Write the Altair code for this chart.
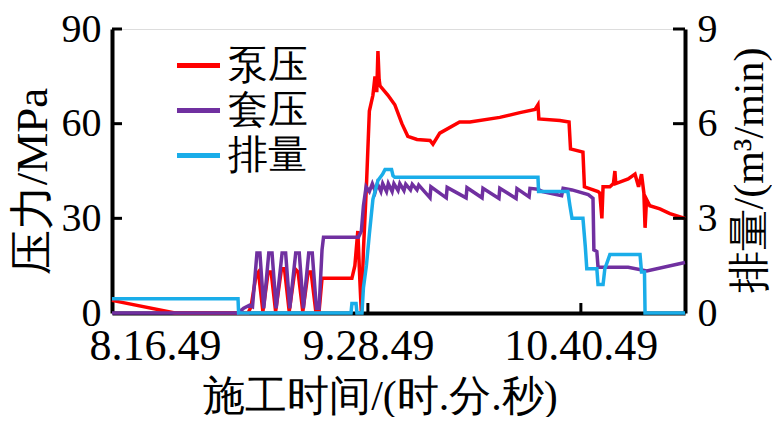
import altair as alt
import pandas as pd

series_names = ["泵压", "套压", "排量"]
series_colors = ["#FF0000", "#7030A0", "#1AADE9"]

# time in minutes relative to 8:16:49
pump_t = [-14.5, 6.8, 31.5, 32.5, 34.2, 35.0, 36.5, 38.3, 39.3, 40.8, 42.8, 43.8, 45.4, 47.4, 48.4, 50.0,
          51.8, 52.8, 54.4, 55.5, 56.5, 66.6, 67.6, 68.6, 69.3, 69.8, 70.5, 71.5, 72.5, 73.7, 74.4, 75.0,
          75.4, 75.8, 76.1, 78.8, 81.1, 83.5, 85.5, 88.6, 93.0, 94.0, 96.3, 103.0, 106.5, 116.6, 123.4,
          128.5, 129.5, 129.8, 136.9, 140.0, 140.5, 144.7, 145.2, 149.8, 150.4, 151.1, 151.5, 153.8,
          155.0, 155.5, 155.8, 160.0, 162.3, 163.5, 164.5, 165.3, 165.7, 166.2, 167.3, 170.7, 174.1, 179.2]
pump_v = [4, 0, 0, 2, 12, 13, 0.5, 13, 13, 0.5, 14, 14, 0.5, 14, 13, 0.5,
          13, 13, 0.5, 0.5, 11, 11, 15, 26, 10, 0, 20, 40, 64, 69, 75, 70,
          83, 74, 72, 69, 66, 60, 56, 55, 54.7, 53.5, 57, 60.5, 60.5, 62, 63.5,
          64.5, 66, 61.5, 61, 60.5, 52, 51, 40, 38.5, 38, 30, 40, 40,
          41, 45, 41, 42.5, 44, 40, 44, 38, 27, 36, 34, 33, 31.5, 30]

casing_t = [-14.5, 28.0, 30.0, 32.0, 33.0, 34.5, 35.5, 36.8, 38.5, 39.6, 41.0, 43.0, 44.2, 45.6, 47.6, 48.8,
            50.2, 52.0, 53.2, 54.6, 55.5, 56.5, 57.0, 68.8, 69.8, 70.5, 71.4, 72.5, 73.5, 74.5, 75.2, 76.4,
            77.0, 78.3, 78.9, 80.2, 80.8, 82.2, 82.8, 84.2, 84.8, 86.4, 87.0, 88.6, 89.2, 93.0, 93.3, 98.5,
            98.8, 105.2, 105.5, 110.6, 110.9, 116.3, 116.6, 122.1, 122.4, 126.5, 126.8, 129.5, 131.0, 137.5,
            138.0, 141.0, 146.5, 148.1, 148.4, 149.4, 149.8, 160.0, 166.3, 179.2]
casing_v = [0, 0, 1.5, 2.5, 2.0, 19, 19, 1.5, 19, 19, 1.5, 19, 19, 1.5, 19, 19,
            1.5, 19, 19, 1.5, 1.5, 20, 24, 24, 26, 34, 40, 38.5, 41, 38.5, 41, 38.5,
            41, 38.5, 41, 38.5, 41, 38.8, 41, 38.8, 40.8, 39, 40.8, 39, 40.5, 36.5, 40, 36.5,
            39.8, 36.5, 39.7, 36.5, 39.5, 36.3, 39.5, 36.3, 39.4, 36.8, 39.5, 39.2, 38.5, 37.2,
            39.5, 39, 37.5, 36.3, 20, 19.5, 14.5, 14.5, 13.3, 16]

rate_t = [-14.5, 28.1, 28.3, 66.3, 66.6, 68.0, 68.3, 70.0, 70.5, 71.5, 72.5, 73.7, 75.4, 77.0, 77.8, 80.0,
          80.5, 81.1, 129.5, 129.7, 139.6, 140.3, 141.0, 144.7, 145.5, 146.0, 149.4, 149.8, 151.5, 152.1,
          153.8, 164.0, 164.5, 165.5, 165.7, 179.2]
rate_v = [0.45, 0.45, 0, 0, 0.3, 0.3, 0, 0, 0.8, 1.5, 2.5, 3.6, 4.2, 4.4, 4.55, 4.55,
          4.35, 4.3, 4.3, 3.85, 3.85, 3.4, 3.0, 3.0, 2.1, 1.4, 1.4, 0.9, 0.9, 1.4,
          1.85, 1.85, 1.3, 1.3, 0, 0]

x_tick_values = [0, 72, 144]
x_tick_labels = ["8.16.49", "9.28.49", "10.40.49"]
x_tick_marks = [72, 144]
x_domain = [-14.5, 179.2]
left_ticks = [0, 30, 60, 90]
left_tick_marks = [30, 60, 90]
right_ticks = [0, 3, 6, 9]
right_tick_marks = [3, 6, 9]

SERIF = "Times New Roman, Liberation Serif, DejaVu Serif, serif"
W, H = 573, 284

df_pump = pd.DataFrame({"t": pump_t, "v": pump_v, "s": series_names[0]})
df_casing = pd.DataFrame({"t": casing_t, "v": casing_v, "s": series_names[1]})
df_rate = pd.DataFrame({"t": rate_t, "v": rate_v, "s": series_names[2]})

label_expr = "'" + x_tick_labels[-1] + "'"
for val, lab in reversed(list(zip(x_tick_values[:-1], x_tick_labels[:-1]))):
    label_expr = f"datum.value == {val} ? '{lab}' : " + label_expr

x_scale = alt.Scale(domain=x_domain, nice=False, zero=False)
x_axis = alt.Axis(values=x_tick_values, labelExpr=label_expr, title="施工时间/(时.分.秒)",
                  ticks=False, grid=False, domainWidth=4, domainColor="black",
                  labelFont=SERIF, labelFontSize=44, labelColor="black", labelPadding=11,
                  labelFlush=False, labelOverlap=False,
                  titleFont=SERIF, titleFontSize=42, titleFontWeight="normal", titleColor="black",
                  titleX=268, titleY=83, titleBaseline="middle", titleAlign="center")


def xenc(field):
    return alt.X(field, type="quantitative", scale=x_scale, axis=x_axis)


left_scale = alt.Scale(domain=[0, 90], nice=False, zero=True)
right_scale = alt.Scale(domain=[0, 9], nice=False, zero=True)

left_axis = alt.Axis(values=left_ticks, title="压力/MPa", orient="left", ticks=False, grid=False,
                     domainWidth=4, domainColor="black",
                     labelFont=SERIF, labelFontSize=40, labelColor="black", labelPadding=11,
                     labelFlush=False, labelOverlap=False,
                     titleFont=SERIF, titleFontSize=45, titleFontWeight="normal", titleColor="black",
                     titleAngle=270, titleX=-80, titleY=152, titleBaseline="middle", titleAlign="center")
right_axis = alt.Axis(values=right_ticks, title="排量/(m³/min)", orient="right", ticks=False, grid=False,
                      domainWidth=4, domainColor="black",
                      labelFont=SERIF, labelFontSize=40, labelColor="black", labelPadding=12,
                      labelFlush=False, labelOverlap=False,
                      titleFont=SERIF, titleFontSize=42, titleFontWeight="normal", titleColor="black",
                      titleAngle=270, titleX=64, titleY=141, titleBaseline="middle", titleAlign="center")

color = alt.Color("s:N", scale=alt.Scale(domain=series_names, range=series_colors),
                  legend=alt.Legend(orient="none", legendX=62, legendY=12, title=None,
                                    symbolType="stroke", symbolSize=1850, symbolStrokeWidth=5,
                                    labelFont=SERIF, labelFontSize=40, labelColor="black",
                                    labelOffset=5, rowPadding=-6, padding=0))

pump = alt.Chart(df_pump).mark_line(strokeWidth=3.5).encode(
    x=xenc("t"), y=alt.Y("v:Q", scale=left_scale, axis=left_axis), color=color)
casing = alt.Chart(df_casing).mark_line(strokeWidth=3.5).encode(
    x=xenc("t"), y=alt.Y("v:Q", scale=left_scale, axis=None), color=color)
rate = alt.Chart(df_rate).mark_line(strokeWidth=3.5).encode(
    x=xenc("t"), y=alt.Y("v:Q", scale=right_scale, axis=right_axis), color=color)

lt = alt.Chart(pd.DataFrame({"v": left_tick_marks})).mark_rule(color="black", strokeWidth=3).encode(
    y=alt.Y("v:Q", scale=left_scale, axis=None), x=alt.value(0), x2=alt.value(10))
rt = alt.Chart(pd.DataFrame({"v": right_tick_marks})).mark_rule(color="black", strokeWidth=3).encode(
    y=alt.Y("v:Q", scale=right_scale, axis=None), x=alt.value(W - 12), x2=alt.value(W))
xt = alt.Chart(pd.DataFrame({"t": x_tick_marks})).mark_rule(color="black", strokeWidth=3).encode(
    x=xenc("t"), y=alt.value(H - 10), y2=alt.value(H))

chart = alt.layer(pump, casing, rate, lt, rt, xt).resolve_scale(y="independent").properties(
    width=W, height=H,
    autosize=alt.AutoSizeParams(type="none"),
    padding={"left": 104, "top": 21, "right": 87, "bottom": 104},
).configure_view(strokeWidth=0).configure(background="white")

chart.save("out.html", embed_options={"renderer": "svg", "actions": False})
